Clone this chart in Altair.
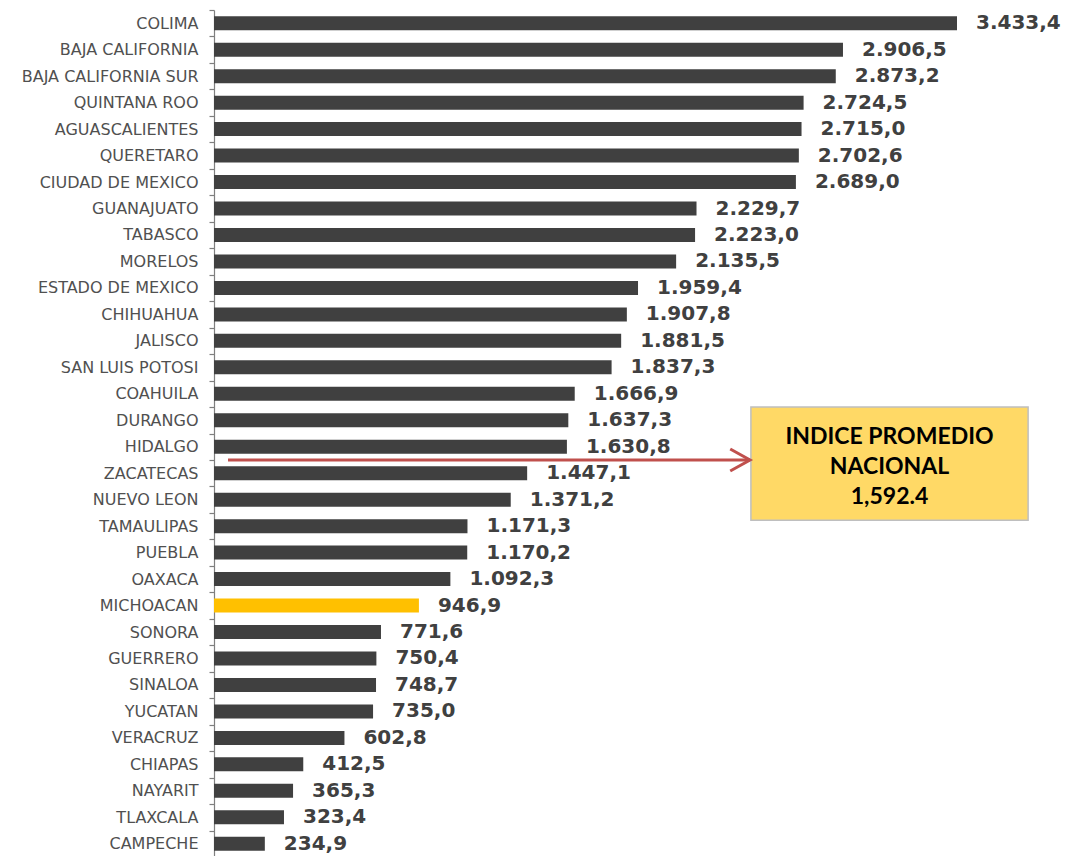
import altair as alt
import pandas as pd

states = ["COLIMA", "BAJA CALIFORNIA", "BAJA CALIFORNIA SUR", "QUINTANA ROO",
          "AGUASCALIENTES", "QUERETARO", "CIUDAD DE MEXICO", "GUANAJUATO",
          "TABASCO", "MORELOS", "ESTADO DE MEXICO", "CHIHUAHUA", "JALISCO",
          "SAN LUIS POTOSI", "COAHUILA", "DURANGO", "HIDALGO", "ZACATECAS",
          "NUEVO LEON", "TAMAULIPAS", "PUEBLA", "OAXACA", "MICHOACAN", "SONORA",
          "GUERRERO", "SINALOA", "YUCATAN", "VERACRUZ", "CHIAPAS", "NAYARIT",
          "TLAXCALA", "CAMPECHE"]
values = [3433.4, 2906.5, 2873.2, 2724.5, 2715.0, 2702.6, 2689.0, 2229.7,
          2223.0, 2135.5, 1959.4, 1907.8, 1881.5, 1837.3, 1666.9, 1637.3,
          1630.8, 1447.1, 1371.2, 1171.3, 1170.2, 1092.3, 946.9, 771.6,
          750.4, 748.7, 735.0, 602.8, 412.5, 365.3, 323.4, 234.9]
highlight = "MICHOACAN"

# annotation (data units: x in index units, y in row units)
box_lines = ["INDICE PROMEDIO", "NACIONAL", "1,592.4"]
box_line_rows = [16.14, 17.27, 18.41]
box_x = [2481.0, 3762.0]
box_rows = [15.00, 19.28]
arrow_x = [64.7, 2477.0]
arrow_row = 17.0


def fmt(v):
    s = f"{v:,.1f}"
    return s.replace(",", "X").replace(".", ",").replace("X", ".")


df = pd.DataFrame({
    "estado": states,
    "valor": values,
    "etiqueta": [fmt(v) for v in values],
    "color": ["#FFC000" if s == highlight else "#404040" for s in states],
})

x_scale = alt.Scale(domain=[0, 3433.4], nice=False, zero=True)
y_band = alt.Scale(paddingInner=0, paddingOuter=0)
y_axis = alt.Axis(title=None, tickBand="extent", labelFont="DejaVu Sans",
                  labelFontSize=16, labelColor="#505050",
                  ticks=True, tickColor="#7f7f7f", tickWidth=1.2,
                  domainColor="#7f7f7f", domainWidth=1.2,
                  tickSize=5, labelPadding=11, labelLimit=400)
y_enc = alt.Y("estado:N", sort=states, scale=y_band, axis=y_axis)

bars = alt.Chart(df).mark_bar(size=14).encode(
    x=alt.X("valor:Q", scale=x_scale, axis=None),
    y=y_enc,
    color=alt.Color("color:N", scale=None),
)

text = alt.Chart(df).mark_text(
    align="left", baseline="middle", dx=19, font="DejaVu Sans",
    fontWeight="bold", fontSize=20, color="#404040"
).encode(
    x=alt.X("valor:Q", scale=x_scale, axis=None),
    y=y_enc,
    text="etiqueta:N",
)

y_rows = alt.Scale(domain=[0, len(states)], reverse=True, nice=False, zero=False)

box_df = pd.DataFrame({"x0": [box_x[0]], "x1": [box_x[1]],
                       "y0": [box_rows[0]], "y1": [box_rows[1]]})
box = alt.Chart(box_df).mark_rect(
    fill="#FFD966", stroke="#BFBFBF", strokeWidth=1.5
).encode(
    x=alt.X("x0:Q", scale=x_scale, axis=None), x2="x1:Q",
    y=alt.Y("y0:Q", scale=y_rows, axis=None), y2="y1:Q",
)

arrow_df = pd.DataFrame({"x0": [arrow_x[0]], "x1": [arrow_x[1]], "y": [arrow_row]})
arrow = alt.Chart(arrow_df).mark_rule(color="#C0504D", strokeWidth=3).encode(
    x=alt.X("x0:Q", scale=x_scale, axis=None), x2="x1:Q",
    y=alt.Y("y:Q", scale=y_rows, axis=None),
)
head = alt.Chart(arrow_df).mark_point(
    shape="M -1.8 -1 L 0 0 L -1.8 1", filled=False, color="#C0504D",
    strokeWidth=3, size=484, opacity=1
).encode(
    x=alt.X("x1:Q", scale=x_scale, axis=None),
    y=alt.Y("y:Q", scale=y_rows, axis=None),
)

bt_df = pd.DataFrame({"t": box_lines, "row": box_line_rows,
                      "x": [(box_x[0] + box_x[1]) / 2] * len(box_lines)})
box_text = alt.Chart(bt_df).mark_text(
    align="center", baseline="middle", font="Lato", fontWeight="bold",
    fontSize=23, color="#000000"
).encode(
    x=alt.X("x:Q", scale=x_scale, axis=None),
    y=alt.Y("row:Q", scale=y_rows, axis=None),
    text="t:N",
)

chart = alt.layer(
    alt.layer(bars, text),
    alt.layer(box, arrow, head, box_text),
).resolve_scale(y="independent").properties(
    width=743, height=847,
    autosize=alt.AutoSizeParams(type="none"),
    padding={"left": 206, "top": 2, "right": 106, "bottom": 0},
    background="white",
).configure_view(stroke=None)

chart.save("out.html", embed_options={"renderer": "svg", "actions": False})
